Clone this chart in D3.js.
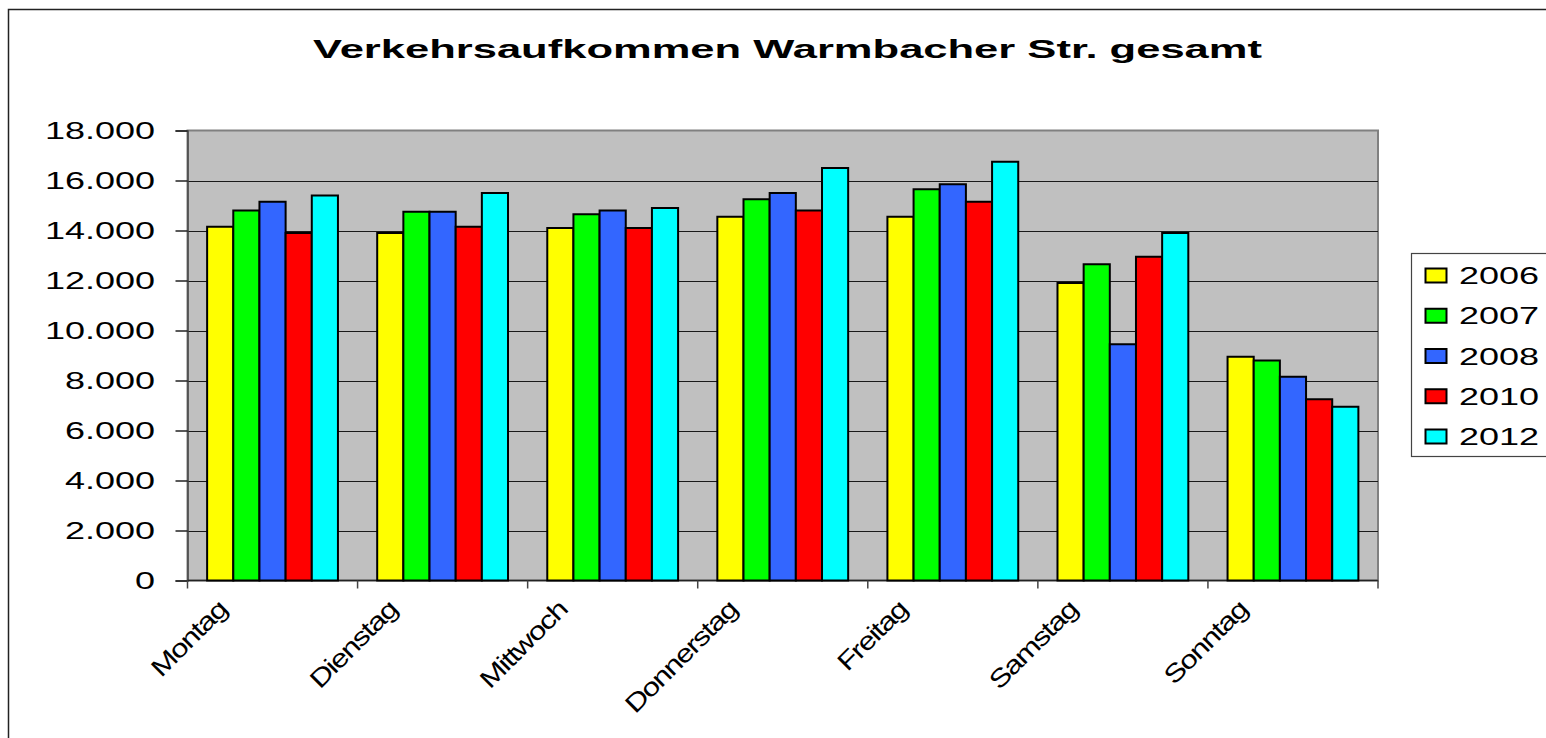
<!DOCTYPE html>
<html>
<head>
<meta charset="utf-8">
<script src="https://cdn.jsdelivr.net/npm/d3@7"></script>
<style>
  html, body { margin: 0; padding: 0; background: #fff; }
  svg { display: block; }
  text { font-family: Arial, "Liberation Sans", sans-serif; fill: #000; }
</style>
</head>
<body>
<svg id="chart" width="1546" height="738"></svg>
<script>
const categories = ["Montag", "Dienstag", "Mittwoch", "Donnerstag", "Freitag", "Samstag", "Sonntag"];
const seriesNames = ["2006", "2007", "2008", "2010", "2012"];
const seriesColors = ["#FFFF00", "#00FF00", "#3366FF", "#FF0000", "#00FFFF"];
const v2006 = [14150, 13900, 14100, 14550, 14550, 11900, 8950];
const v2007 = [14800, 14750, 14650, 15250, 15650, 12650, 8800];
const v2008 = [15150, 14750, 14800, 15500, 15850, 9450, 8150];
const v2010 = [13900, 14150, 14100, 14800, 15150, 12950, 7250];
const v2012 = [15400, 15500, 14900, 16500, 16750, 13900, 6950];
const seriesValues = [v2006, v2007, v2008, v2010, v2012];
const yTicks = [0, 2000, 4000, 6000, 8000, 10000, 12000, 14000, 16000, 18000];
const titleText = "Verkehrsaufkommen Warmbacher Str. gesamt";

const svg = d3.select("#chart");
const plot = { left: 187.5, right: 1378, top: 130.5, bottom: 580.5 };
const SX = 1.5; // horizontal stretch of text in the reference

// outer chart border
svg.append("rect")
  .attr("x", 8.5).attr("y", 9.5)
  .attr("width", 1600).attr("height", 800)
  .attr("fill", "#fff").attr("stroke", "#222").attr("stroke-width", 1.5);

const x0 = d3.scaleBand().domain(categories).range([plot.left, plot.right]).padding(0);
const x1 = d3.scaleBand().domain(seriesNames).range([0, x0.bandwidth()])
  .paddingInner(0).paddingOuter(0.75);
const y = d3.scaleLinear().domain([0, 18000]).range([plot.bottom, plot.top]);

// plot background
svg.append("rect")
  .attr("x", plot.left).attr("y", plot.top)
  .attr("width", plot.right - plot.left).attr("height", plot.bottom - plot.top)
  .attr("fill", "#C0C0C0").attr("stroke", "#808080").attr("stroke-width", 2);

// gridlines
svg.append("g").selectAll("line").data(yTicks.filter(t => t > 0 && t < 18000)).join("line")
  .attr("x1", plot.left).attr("x2", plot.right)
  .attr("y1", d => Math.round(y(d)) + 0.5).attr("y2", d => Math.round(y(d)) + 0.5)
  .attr("stroke", "#1a1a1a").attr("stroke-width", 1.2);

// y axis
const yAxis = svg.append("g").attr("transform", `translate(${plot.left},0)`)
  .call(d3.axisLeft(y).tickValues(yTicks).tickSize(12).tickFormat(() => ""));
yAxis.select(".domain").attr("stroke", "#444").attr("stroke-width", 1.5);
yAxis.selectAll(".tick line").attr("stroke", "#222").attr("stroke-width", 1.5);

const fmt = d => d === 0 ? "0" : d3.format(",")(d).replace(/,/g, ".");
svg.append("g").selectAll("text").data(yTicks).join("text")
  .attr("transform", d => `translate(155,${y(d) + 8}) scale(${SX},1)`)
  .attr("text-anchor", "end")
  .attr("font-size", 24)
  .text(fmt);

// x axis
const bounds = categories.map(c => x0(c)).concat([plot.right]);
svg.append("line")
  .attr("x1", plot.left).attr("x2", plot.right)
  .attr("y1", plot.bottom).attr("y2", plot.bottom)
  .attr("stroke", "#222").attr("stroke-width", 1.5);
svg.append("g").selectAll("line").data(bounds).join("line")
  .attr("x1", d => d).attr("x2", d => d)
  .attr("y1", plot.bottom).attr("y2", plot.bottom + 8)
  .attr("stroke", "#444").attr("stroke-width", 1.5);

// bars
const groups = svg.append("g").selectAll("g").data(seriesNames).join("g")
  .attr("fill", (d, i) => seriesColors[i]);
groups.each(function (s, si) {
  d3.select(this).selectAll("rect").data(seriesValues[si]).join("rect")
    .attr("x", (d, ci) => x0(categories[ci]) + x1(s))
    .attr("y", d => y(d))
    .attr("width", x1.bandwidth())
    .attr("height", d => y(0) - y(d))
    .attr("stroke", "#000").attr("stroke-width", 2);
});

// category labels
svg.append("g").selectAll("text").data(categories).join("text")
  .attr("transform", d => `translate(${x0(d) + x0.bandwidth() / 2 - 44},611) rotate(-45) scale(1.25,1)`)
  .attr("text-anchor", "end")
  .attr("font-size", 25)
  .attr("letter-spacing", -1.2)
  .text(d => d);

// title
svg.append("text")
  .attr("x", 313).attr("y", 58)
  .attr("font-size", 25).attr("font-weight", "bold")
  .attr("textLength", 949).attr("lengthAdjust", "spacingAndGlyphs")
  .text(titleText);

// legend
const lg = svg.append("g");
lg.append("rect")
  .attr("x", 1411.5).attr("y", 253.5).attr("width", 200).attr("height", 203)
  .attr("fill", "#fff").attr("stroke", "#444").attr("stroke-width", 1.2);
const ly = d3.scalePoint().domain(seriesNames).range([275.5, 436.5]);
lg.selectAll("rect.sw").data(seriesNames).join("rect").attr("class", "sw")
  .attr("x", 1425.5).attr("y", d => ly(d) - 7)
  .attr("width", 21).attr("height", 14)
  .attr("fill", (d, i) => seriesColors[i]).attr("stroke", "#000").attr("stroke-width", 2);
lg.selectAll("text").data(seriesNames).join("text")
  .attr("transform", d => `translate(1459,${ly(d) + 8.5}) scale(${SX},1)`)
  .attr("font-size", 24)
  .text(d => d);
</script>
</body>
</html>
